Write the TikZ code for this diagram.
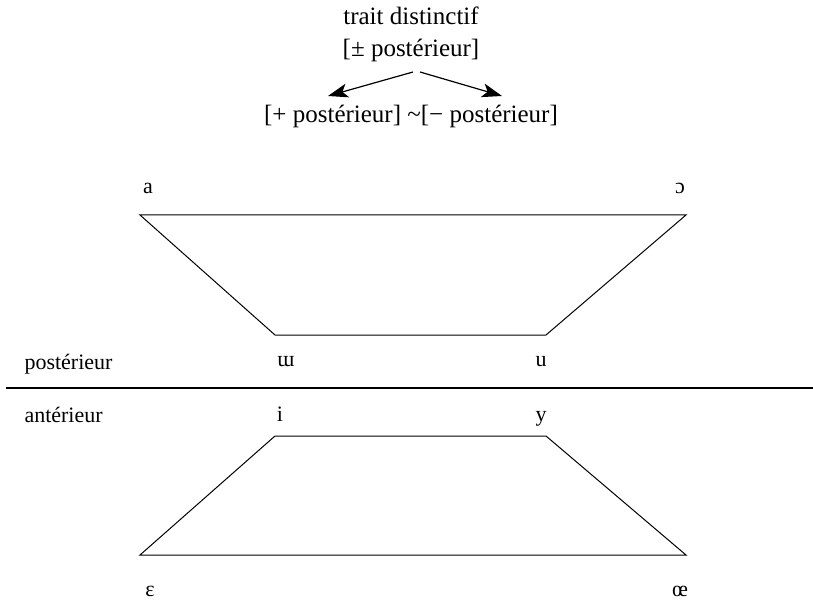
\documentclass[tikz,border=0pt]{standalone}
\usepackage{fontspec}
\setmainfont{Liberation Serif}
\usetikzlibrary{arrows.meta}
\begin{document}
\begin{tikzpicture}[x=1pt,y=-1pt,line width=1pt,
  big/.style={font=\fontsize{25}{30}\selectfont,inner sep=0pt,anchor=base},
  lab/.style={font=\fontsize{22}{26}\selectfont,inner sep=0pt,anchor=base},
  arr/.style={line width=1.2pt,-{Stealth[length=20pt,width=14pt,inset=5pt]}}]
\useasboundingbox (0,0) rectangle (813,601);

\node[big] (trait) at (411,25) {trait distinctif};
\node[big] (pm) at (411,57) {[± postérieur]};
\node[big] (pair) at (411,123) {[+ postérieur] \textasciitilde[− postérieur]};
\coordinate (sL) at (413,72);
\coordinate (sR) at (420,72);
\coordinate (tL) at (328,96);
\coordinate (tR) at (502,96);
\draw[arr] (sL)--(tL);
\draw[arr] (sR)--(tR);

\coordinate (a) at (140,215);
\coordinate (o) at (686,215);
\coordinate (w) at (275,335);
\coordinate (u) at (546,335);
\coordinate (i) at (275,436);
\coordinate (y) at (546,436);
\coordinate (e) at (140,555);
\coordinate (oe) at (686,555);
\draw (a)--(w)--(u)--(o)--cycle;
\draw (i)--(y)--(oe)--(e)--cycle;

\coordinate (div1) at (6,388);
\coordinate (div2) at (813,388);
\draw[line width=1.2pt] (div1)--(div2);

\node[lab] (la) at (148,194) {a};
\node[lab] (lo) at (680,194) {ɔ};
\node[lab] (lw) at (286,366) {ɯ};
\node[lab] (lu) at (541,366) {u};
\node[lab,anchor=base west] (post) at (24,369) {postérieur};
\node[lab,anchor=base west] (ant) at (24,422) {antérieur};
\node[lab] (li) at (280,421) {i};
\node[lab] (ly) at (541,421) {y};
\node[lab] (le) at (150,596) {ɛ};
\node[lab] (loe) at (680,596) {œ};
\end{tikzpicture}
\end{document}
